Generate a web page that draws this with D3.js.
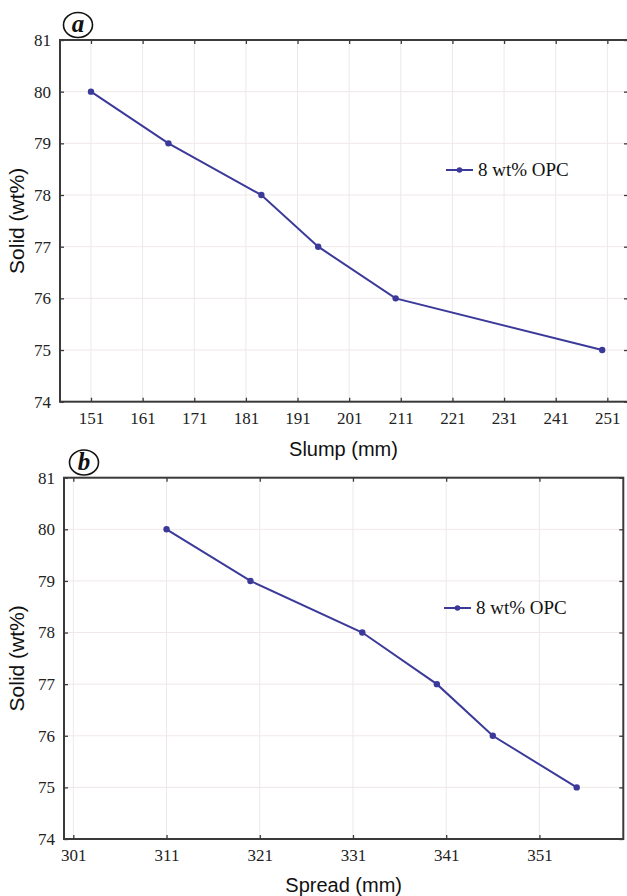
<!DOCTYPE html>
<html><head><meta charset="utf-8">
<script src="https://cdn.jsdelivr.net/npm/d3@7"></script>
<style>body{margin:0;background:#fff}svg{display:block}</style>
</head><body>
<script>
// Data
const solid = [80, 79, 78, 77, 76, 75];
const slump = [151, 166, 184, 195, 210, 250];
const spread = [311, 320, 332, 340, 346, 355];
const slumpTicks = [151, 161, 171, 181, 191, 201, 211, 221, 231, 241, 251];
const spreadTicks = [301, 311, 321, 331, 341, 351];
const solidTicks = [74, 75, 76, 77, 78, 79, 80, 81];
const seriesName = "8 wt% OPC";

const W = 627, H = 896;
const svg = d3.select("body").append("svg").attr("width", W).attr("height", H);
svg.append("rect").attr("width", W).attr("height", H).attr("fill", "#fff");

const lineColor = "#3b3a9a";
const gridColor = "#f0e8e8";
const axisColor = "#3a3a3a";
const fmt = d3.format("d");

function panel(opt) {
  const g = svg.append("g");
  const x = d3.scaleLinear().domain(opt.xDomain).range([opt.left, opt.right]);
  const y = d3.scaleLinear().domain([74, 81]).range([opt.bottom, opt.top]);

  // grid
  g.selectAll(".vg").data(opt.xTicks).join("line")
    .attr("x1", d => x(d)).attr("x2", d => x(d))
    .attr("y1", opt.top).attr("y2", opt.bottom)
    .attr("stroke", gridColor).attr("stroke-width", 1);
  g.selectAll(".hg").data(solidTicks).join("line")
    .attr("y1", d => y(d)).attr("y2", d => y(d))
    .attr("x1", opt.left).attr("x2", opt.right)
    .attr("stroke", gridColor).attr("stroke-width", 1);

  const ax = g.append("g").attr("transform", `translate(0,${opt.bottom})`)
    .call(d3.axisBottom(x).tickValues(opt.xTicks).tickFormat(fmt).tickSize(-4).tickPadding(10));
  const axTop = g.append("g").attr("transform", `translate(0,${opt.top})`)
    .call(d3.axisTop(x).tickValues(opt.xTicks).tickSize(-4).tickFormat(""));
  const ay = g.append("g").attr("transform", `translate(${opt.left},0)`)
    .call(d3.axisLeft(y).tickValues(solidTicks).tickFormat(fmt).tickSize(-4).tickPadding(9));
  const ayR = g.append("g").attr("transform", `translate(${opt.right},0)`)
    .call(d3.axisRight(y).tickValues(solidTicks).tickSize(-4).tickFormat(""));
  [ax, axTop, ay, ayR].forEach(a => {
    a.select(".domain").remove();
    a.selectAll(".tick line").attr("stroke", axisColor).attr("stroke-width", 1.3);
    a.selectAll("text").attr("font-family", "'Liberation Serif','Times New Roman',serif")
      .attr("font-size", 17).attr("fill", "#222");
  });
  g.append("rect").attr("x", opt.left).attr("y", opt.top)
    .attr("width", opt.right - opt.left).attr("height", opt.bottom - opt.top)
    .attr("fill", "none").attr("stroke", axisColor).attr("stroke-width", 2);

  const pts = opt.xs.map((v, i) => [v, solid[i]]);
  g.append("path").datum(pts)
    .attr("d", d3.line().x(d => x(d[0])).y(d => y(d[1])))
    .attr("fill", "none").attr("stroke", lineColor).attr("stroke-width", 2);
  g.selectAll(".pt").data(pts).join("circle")
    .attr("cx", d => x(d[0])).attr("cy", d => y(d[1])).attr("r", 3.2)
    .attr("fill", lineColor);

  g.append("line").attr("x1", opt.legX).attr("x2", opt.legX + 27)
    .attr("y1", opt.legY).attr("y2", opt.legY)
    .attr("stroke", lineColor).attr("stroke-width", 2);
  g.append("circle").attr("cx", opt.legX + 13.5).attr("cy", opt.legY).attr("r", 2.8).attr("fill", lineColor);
  g.append("text").attr("x", opt.legX + 32).attr("y", opt.legY + 6)
    .attr("font-family", "'Liberation Serif','Times New Roman',serif")
    .attr("font-size", 19).attr("fill", "#111").text(seriesName);

  g.append("text").attr("x", (opt.left + Math.min(opt.right, W)) / 2).attr("y", opt.xTitleY)
    .attr("text-anchor", "middle").attr("font-family", "'Liberation Sans',Arial,sans-serif")
    .attr("font-size", 20).attr("fill", "#111").text(opt.xTitle);
  const cy = (opt.top + opt.bottom) / 2;
  g.append("text").attr("transform", `translate(${opt.yTitleX},${cy}) rotate(-90)`)
    .attr("text-anchor", "middle").attr("font-family", "'Liberation Sans',Arial,sans-serif")
    .attr("font-size", 21).attr("fill", "#111").text("Solid (wt%)");

  g.append("ellipse").attr("cx", opt.labX).attr("cy", opt.labY).attr("rx", 14.5).attr("ry", 12.5)
    .attr("fill", "#fff").attr("stroke", "#111").attr("stroke-width", 1.6);
  g.append("text").attr("x", opt.labX).attr("y", opt.labY + 7)
    .attr("text-anchor", "middle").attr("font-family", "'Liberation Serif','Times New Roman',serif")
    .attr("font-style", "italic").attr("font-weight", "bold").attr("font-size", 25)
    .attr("fill", "#111").text(opt.label);
}

panel({
  xs: slump, xDomain: [145, 255], xTicks: slumpTicks,
  left: 60, right: 628, top: 40, bottom: 401.7,
  legX: 446, legY: 170, xTitle: "Slump (mm)", xTitleY: 456, yTitleX: 24,
  labX: 78, labY: 25, label: "a"
});
panel({
  xs: spread, xDomain: [300, 360], xTicks: spreadTicks,
  left: 64, right: 623.3, top: 477.7, bottom: 839,
  legX: 444, legY: 608, xTitle: "Spread (mm)", xTitleY: 892, yTitleX: 24,
  labX: 84, labY: 462.5, label: "b"
});
</script>
</body></html>
